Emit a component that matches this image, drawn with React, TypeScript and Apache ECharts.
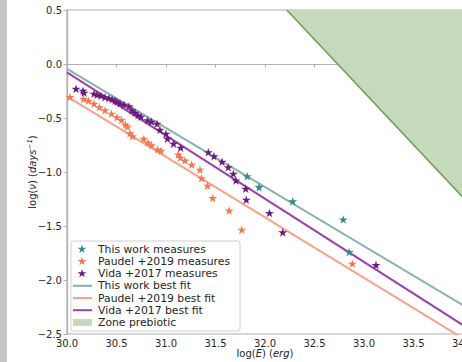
import React, { useEffect, useRef } from 'react';
import * as echarts from 'echarts';

// log(E) [erg], log(nu) [days^-1]
const thisWork: number[][] = [
  [31.82, -1.04], [31.94, -1.14], [32.28, -1.27], [32.79, -1.44], [32.85, -1.74],
];
const paudel: number[][] = [
  [30.03, -0.306], [30.167, -0.324], [30.217, -0.34], [30.273, -0.368], [30.328, -0.4],
  [30.384, -0.428], [30.449, -0.46], [30.505, -0.493], [30.551, -0.519], [30.591, -0.562],
  [30.611, -0.581], [30.636, -0.641], [30.662, -0.669], [30.775, -0.692], [30.818, -0.729],
  [30.854, -0.752], [30.914, -0.791], [30.949, -0.803], [31.124, -0.838], [31.146, -0.868],
  [31.192, -0.893], [31.26, -0.932], [31.343, -0.979], [31.359, -1.057], [31.419, -1.127],
  [31.472, -1.241], [31.638, -1.356], [31.765, -1.535], [32.882, -1.849],
];
const vida: number[][] = [
  [30.091, -0.229], [30.162, -0.247], [30.172, -0.266], [30.273, -0.275], [30.303, -0.284],
  [30.343, -0.294], [30.384, -0.307], [30.424, -0.317], [30.455, -0.326], [30.485, -0.34],
  [30.505, -0.349], [30.535, -0.363], [30.576, -0.377], [30.626, -0.391], [30.657, -0.428],
  [30.687, -0.451], [30.717, -0.474], [30.747, -0.488], [30.813, -0.52], [30.854, -0.534],
  [30.909, -0.553], [30.939, -0.608], [31.0, -0.645], [31.015, -0.691], [31.076, -0.738],
  [31.148, -0.775], [31.427, -0.817], [31.485, -0.854], [31.566, -0.905], [31.629, -0.956],
  [31.68, -1.016], [31.707, -1.078], [31.805, -1.155], [31.811, -1.257], [32.045, -1.38],
  [32.179, -1.559], [33.121, -1.861],
];

// best fits: y = intercept + slope * (x - 30)
const fitNames = ['This work best fit', 'Paudel +2019 best fit', 'Vida +2017 best fit'];
const fitIntercepts = [-0.045, -0.3, -0.078];
const fitSlopes = [-0.547, -0.56, -0.585];
const fitRange = [30, 34];

// prebiotic zone boundary
const zoneLine: number[][] = [[32.22, 0.5], [34.0, -1.235]];

const scatterNames = ['This work measures', 'Paudel +2019 measures', 'Vida +2017 measures'];
const legendNames = [...scatterNames, ...fitNames, 'Zone prebiotic'];

const starColors = ['#358a8c', '#f3774f', '#6a1c7c'];
const lineColors = ['#86b2af', '#f6a28c', '#9d41b0'];
const zoneFill = '#c7d9bd';
const zoneEdge = '#6a9f50';

const STAR =
  'path://M0,-10 L2.245,-3.09 L9.511,-3.09 L3.633,1.18 L5.878,8.09 L0,3.82 L-5.878,8.09 L-3.633,1.18 L-9.511,-3.09 L-2.245,-3.09 Z';

const FONT = '"DejaVu Sans", "Liberation Sans", sans-serif';

function starPoints(cx: number, cy: number, r: number): number[][] {
  const pts: number[][] = [];
  for (let i = 0; i < 10; i++) {
    const rr = i % 2 === 0 ? r : r * 0.382;
    const a = -Math.PI / 2 + (i * Math.PI) / 5;
    pts.push([cx + rr * Math.cos(a), cy + rr * Math.sin(a)]);
  }
  return pts;
}

function fmt(v: number): string {
  return v.toFixed(1).replace('-', '\u2212');
}

export default function App() {
  const ref = useRef<HTMLDivElement>(null);
  useEffect(() => {
    document.body.style.margin = '0';
    if (!ref.current) return;
    const chart = echarts.init(ref.current, undefined, { renderer: 'svg' });

    const scatterSets = [thisWork, paudel, vida];

    const legendX = 71;
    const legendTop = 241;
    const rowY = (i: number) => 249.2 + 12.2 * i;
    const legendEls: any[] = [
      {
        type: 'rect',
        shape: { x: legendX, y: legendTop, width: 169, height: 90, r: 2 },
        style: { fill: 'rgba(255,255,255,0.85)', stroke: '#d0d0d0', lineWidth: 1 },
        z: 100,
      },
    ];
    legendNames.forEach((name, i) => {
      const y = rowY(i);
      if (i < 3) {
        legendEls.push({
          type: 'polygon',
          shape: { points: starPoints(82, y, 4.6) },
          style: { fill: starColors[i] },
          z: 101,
        });
      } else if (i < 6) {
        legendEls.push({
          type: 'line',
          shape: { x1: 73, y1: y, x2: 92, y2: y },
          style: { stroke: lineColors[i - 3], lineWidth: 2 },
          z: 101,
        });
      } else {
        legendEls.push({
          type: 'rect',
          shape: { x: 73, y: y - 3.5, width: 19, height: 7 },
          style: { fill: zoneFill },
          z: 101,
        });
      }
      legendEls.push({
        type: 'text',
        style: {
          text: name,
          x: 98,
          y,
          font: `10.8px ${FONT}`,
          fill: '#262626',
          verticalAlign: 'middle',
        },
        z: 101,
      });
    });

    const series: any[] = [
      {
        name: 'Zone prebiotic',
        type: 'line',
        data: zoneLine,
        symbol: 'none',
        lineStyle: { color: zoneEdge, width: 1.5 },
        areaStyle: { color: zoneFill, opacity: 1, origin: 'end' },
        z: 1,
      },
      ...fitNames.map((name, i) => ({
        name,
        type: 'line',
        data: fitRange.map((x) => [x, fitIntercepts[i] + fitSlopes[i] * (x - 30)]),
        symbol: 'none',
        lineStyle: { color: lineColors[i], width: 2 },
        z: 2,
      })),
      ...scatterNames.map((name, i) => ({
        name,
        type: 'scatter',
        data: scatterSets[i],
        symbol: STAR,
        symbolSize: 9,
        symbolKeepAspect: true,
        itemStyle: { color: starColors[i], opacity: 1 },
        z: 3,
      })),
    ];

    chart.setOption({
      animation: false,
      backgroundColor: '#ffffff',
      grid: {
        left: 67,
        top: 10,
        width: 396,
        height: 324,
        show: true,
        borderColor: '#b0b0b0',
        borderWidth: 1.2,
        backgroundColor: 'transparent',
        containLabel: false,
        outerBoundsMode: 'none',
      },
      xAxis: {
        type: 'value',
        min: 30,
        max: 34,
        interval: 0.5,
        name: 'log({i|E}) ({i|erg})',
        nameLocation: 'middle',
        nameGap: 14,
        nameMoveOverlap: false,
        nameTextStyle: {
          fontFamily: FONT,
          fontSize: 10,
          color: '#262626',
          verticalAlign: 'top',
          rich: { i: { fontStyle: 'italic', fontFamily: FONT, fontSize: 10, color: '#262626' } },
        },
        axisLine: { show: true, lineStyle: { color: '#b0b0b0', width: 1.2 } },
        axisTick: { show: true, length: 3.5, lineStyle: { color: '#b0b0b0' } },
        axisLabel: { fontFamily: FONT, fontSize: 10, color: '#262626', margin: 4, formatter: fmt, showMaxLabel: true },
        splitLine: { show: false },
      },
      yAxis: {
        type: 'value',
        min: -2.5,
        max: 0.5,
        interval: 0.5,
        name: 'log({i|\u03bd}) ({i|days}{s|\u22121})',
        nameLocation: 'middle',
        nameGap: 28,
        nameMoveOverlap: false,
        nameRotate: 90,
        nameTextStyle: {
          fontFamily: FONT,
          fontSize: 10,
          color: '#262626',
          rich: {
            i: { fontStyle: 'italic', fontFamily: FONT, fontSize: 10, color: '#262626' },
            s: { fontStyle: 'italic', fontFamily: FONT, fontSize: 7, color: '#262626', verticalAlign: 'top', padding: [0, 0, 6, 0] },
          },
        },
        axisLine: { show: true, lineStyle: { color: '#b0b0b0', width: 1.2 } },
        axisTick: { show: true, length: 3.5, lineStyle: { color: '#b0b0b0' } },
        axisLabel: { fontFamily: FONT, fontSize: 10, color: '#262626', margin: 5, formatter: fmt },
        splitLine: { show: false },
      },
      graphic: [
        {
          type: 'rect',
          shape: { x: 0, y: 0, width: 7, height: 362 },
          style: { fill: '#c6c6c6' },
          z: 50,
        },
        ...legendEls,
      ],
      series,
    });

    return () => chart.dispose();
  }, []);

  return <div ref={ref} style={{ width: 462, height: 362 }} />;
}
